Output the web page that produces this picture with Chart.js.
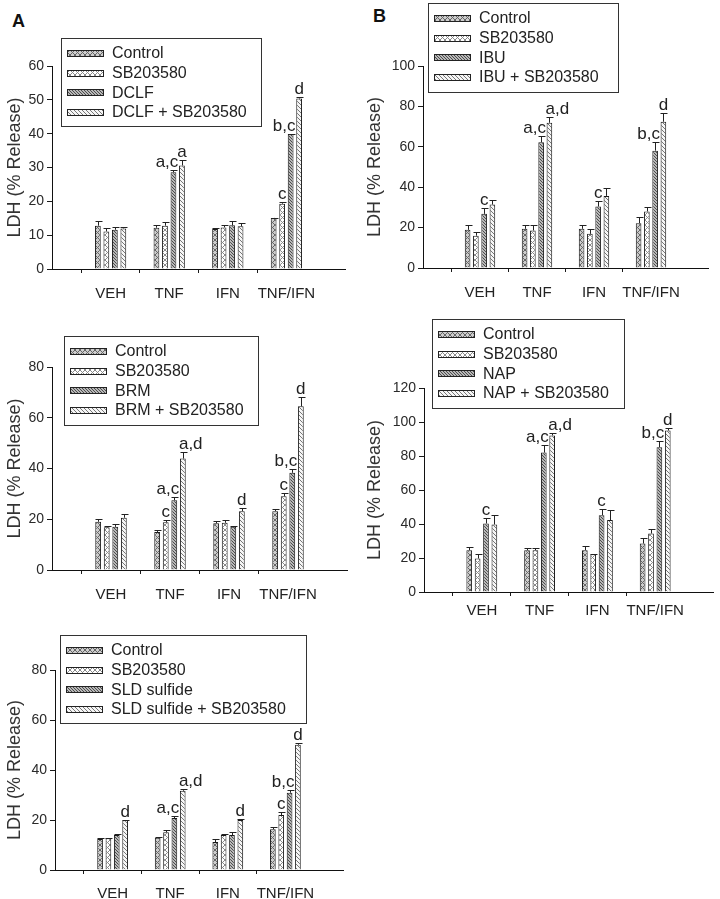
<!DOCTYPE html>
<html>
<head>
<meta charset="utf-8">
<script src="https://cdn.jsdelivr.net/npm/chart.js@4.4.1/dist/chart.umd.min.js"></script>
<style>
  html, body { margin: 0; padding: 0; background: #fff; }
  #page { position: relative; width: 720px; height: 899px; overflow: hidden; font-family: "Liberation Sans", Arial, sans-serif; }
  #page canvas { position: absolute; }
  .letter { position: absolute; font-weight: bold; font-size: 18px; color: #111; }
</style>
</head>
<body>
<div id="page">
  <div class="letter" style="left:12px;top:11px;">A</div>
  <div class="letter" style="left:373px;top:6px;">B</div>
  <canvas id="c-dclf"></canvas>
  <canvas id="c-ibu"></canvas>
  <canvas id="c-brm"></canvas>
  <canvas id="c-nap"></canvas>
  <canvas id="c-sld"></canvas>
</div>
<script>
/* ---- data ---- */
const CATEGORIES = ['VEH', 'TNF', 'IFN', 'TNF/IFN'];
const Y_TITLE = 'LDH (% Release)';

// DCLF panel
const DCLF_SERIES = ['Control', 'SB203580', 'DCLF', 'DCLF + SB203580'];
const DCLF_MEANS = [[12.8, 12.2, 11.8, 15.1], [11.1, 12.8, 12.3, 19.3], [11.6, 28.6, 12.9, 39.9], [12.0, 30.6, 12.6, 50.4]];
const DCLF_ERRS  = [[1.3, 0.7, 0.2, 0.1], [1.0, 1.0, 0.7, 0.6], [0.8, 0.6, 1.2, 0.1], [0.5, 1.6, 1.0, 0.4]];
const DCLF_MARKS = [['', '', '', ''], ['', '', '', 'c'], ['', 'a,c', '', 'b,c'], ['', 'a', '', 'd']];
const DCLF_TICKS = { max: 60, step: 10 };

// IBU panel
const IBU_SERIES = ['Control', 'SB203580', 'IBU', 'IBU + SB203580'];
const IBU_MEANS = [[18.9, 19.4, 19.4, 22.2], [16.0, 18.6, 16.9, 28.0], [26.8, 62.2, 30.4, 58.1], [31.4, 71.9, 35.7, 72.4]];
const IBU_ERRS  = [[2.3, 2.1, 2.1, 3.0], [1.8, 2.6, 2.5, 2.4], [2.8, 2.9, 3.0, 4.4], [2.5, 2.8, 3.8, 4.1]];
const IBU_MARKS = [['', '', '', ''], ['', '', '', ''], ['c', 'a,c', 'c', 'b,c'], ['', 'a,d', '', 'd']];
const IBU_TICKS = { max: 100, step: 20 };

// BRM panel
const BRM_SERIES = ['Control', 'SB203580', 'BRM', 'BRM + SB203580'];
const BRM_MEANS = [[19.0, 15.0, 18.4, 23.2], [16.8, 18.8, 18.6, 29.1], [17.0, 27.5, 17.0, 38.3], [20.6, 43.9, 23.2, 64.5]];
const BRM_ERRS  = [[1.2, 0.7, 0.9, 0.8], [0.5, 0.9, 1.1, 1.3], [1.0, 1.2, 0.2, 1.7], [1.3, 2.7, 1.1, 3.7]];
const BRM_MARKS = [['', '', '', ''], ['', 'c', '', 'c'], ['', 'a,c', '', 'b,c'], ['', 'a,d', 'd', 'd']];
const BRM_TICKS = { max: 80, step: 20 };

// NAP panel
const NAP_SERIES = ['Control', 'SB203580', 'NAP', 'NAP + SB203580'];
const NAP_MEANS = [[24.6, 24.6, 24.6, 28.5], [19.7, 24.6, 22.2, 34.4], [40.3, 82.0, 45.2, 85.2], [39.7, 92.1, 42.3, 95.0]];
const NAP_ERRS  = [[2.0, 1.0, 2.4, 3.0], [2.9, 1.0, 0.4, 2.6], [3.4, 4.4, 3.4, 3.9], [5.5, 1.7, 5.9, 1.4]];
const NAP_MARKS = [['', '', '', ''], ['', '', '', ''], ['c', 'a,c', 'c', 'b,c'], ['', 'a,d', '', 'd']];
const NAP_TICKS = { max: 120, step: 20 };

// SLD sulfide panel
const SLD_SERIES = ['Control', 'SB203580', 'SLD sulfide', 'SLD sulfide + SB203580'];
const SLD_MEANS = [[12.4, 12.9, 11.2, 16.3], [12.7, 15.1, 14.0, 22.0], [14.0, 20.8, 14.0, 30.9], [19.9, 31.7, 20.0, 50.1]];
const SLD_ERRS  = [[0.3, 0.3, 1.1, 0.8], [0.3, 0.9, 0.3, 1.1], [0.3, 0.8, 1.1, 1.1], [0.3, 0.9, 0.4, 0.8]];
const SLD_MARKS = [['', '', '', ''], ['', '', '', 'c'], ['', 'a,c', '', 'b,c'], ['d', 'a,d', 'd', 'd']];
const SLD_TICKS = { max: 80, step: 20 };

/* ---- hatch fills ---- */
function hatch(bg, fg, step, cross) {
  const c = document.createElement('canvas');
  c.width = step; c.height = step;
  const g = c.getContext('2d');
  g.fillStyle = bg;
  g.fillRect(0, 0, step, step);
  g.strokeStyle = fg;
  g.lineWidth = 1;
  g.beginPath();
  g.moveTo(-1, -1); g.lineTo(step + 1, step + 1);
  g.moveTo(-1, step - 1); g.lineTo(1, step + 1);
  g.moveTo(step - 1, -1); g.lineTo(step + 1, 1);
  if (cross) {
    g.moveTo(-1, step + 1); g.lineTo(step + 1, -1);
    g.moveTo(-1, 1); g.lineTo(1, -1);
    g.moveTo(step - 1, step + 1); g.lineTo(step + 1, step - 1);
  }
  g.stroke();
  return g.createPattern(c, 'repeat');
}

const FILLS = [
  hatch('#cdcdcd', '#666666', 5, true),
  hatch('#ffffff', '#8a8a8a', 5, true),
  hatch('#b8b8b8', '#4c4c4c', 3, false),
  hatch('#f6f6f6', '#777777', 4, false)
];

/* ---- plugins ---- */
const barExtras = {
  id: 'barExtras',
  afterDatasetsDraw(chart) {
    const { ctx } = chart;
    const y = chart.scales.y;
    ctx.save();
    ctx.strokeStyle = '#222';
    ctx.lineWidth = 1;
    ctx.fillStyle = '#222';
    ctx.font = '17px "Liberation Sans", Arial, sans-serif';
    chart.data.datasets.forEach((ds, i) => {
      const meta = chart.getDatasetMeta(i);
      meta.data.forEach((bar, j) => {
        const v = ds.data[j];
        if (v == null) return;
        const e = ds.errs[j] || 0;
        const top = y.getPixelForValue(v + e);
        const x = Math.round(bar.x) + 0.5;
        if (e > 0) {
          ctx.beginPath();
          ctx.moveTo(x, bar.y);
          ctx.lineTo(x, Math.round(top) + 0.5);
          ctx.moveTo(x - 3, Math.round(top) + 0.5);
          ctx.lineTo(x + 4, Math.round(top) + 0.5);
          ctx.stroke();
        }
        const m = ds.marks[j];
        if (m) {
          let tx = bar.x;
          ctx.textAlign = 'center';
          if (m.length > 1 && i === 2) { ctx.textAlign = 'right'; tx = bar.x + bar.width / 2 + 2; }
          if (m.length > 1 && i === 3) { ctx.textAlign = 'left'; tx = bar.x - bar.width / 2 - 1; }
          ctx.textBaseline = 'alphabetic';
          ctx.fillText(m, tx, Math.min(top, bar.y) - 3);
        }
      });
    });
    ctx.restore();
  }
};

const boxLegend = {
  id: 'boxLegend',
  afterDraw(chart, args, opts) {
    const { ctx } = chart;
    const b = opts.box;
    ctx.save();
    ctx.fillStyle = '#fff';
    ctx.fillRect(b.x, b.y, b.w, b.h);
    ctx.strokeStyle = '#333';
    ctx.lineWidth = 1;
    ctx.strokeRect(b.x + 0.5, b.y + 0.5, b.w, b.h);
    ctx.font = '16px "Liberation Sans", Arial, sans-serif';
    ctx.textBaseline = 'middle';
    ctx.textAlign = 'left';
    chart.data.datasets.forEach((ds, i) => {
      const cy = b.y + 15 + i * 19.6;
      ctx.fillStyle = FILLS[i];
      ctx.fillRect(b.x + 6, Math.round(cy) - 3, 36, 6);
      ctx.strokeStyle = '#222';
      ctx.strokeRect(b.x + 6.5, Math.round(cy) - 2.5, 36, 6);
      ctx.fillStyle = '#222';
      ctx.fillText(ds.label, b.x + 51, cy + 1);
    });
    ctx.restore();
  }
};

/* ---- one panel ---- */
function renderPanel(id, pos, series, means, errs, marks, ticks) {
  const cv = document.getElementById(id);
  cv.width = pos.w; cv.height = pos.h;
  cv.style.left = pos.left + 'px';
  cv.style.top = pos.top + 'px';
  cv.style.width = pos.w + 'px';
  cv.style.height = pos.h + 'px';

  const labels = [''].concat(CATEGORIES, ['']);
  const datasets = series.map((name, i) => ({
    label: name,
    data: [null].concat(means[i], [null]),
    errs: [0].concat(errs[i], [0]),
    marks: [''].concat(marks[i], ['']),
    backgroundColor: FILLS[i],
    borderColor: '#1a1a1a',
    borderWidth: 1,
    borderSkipped: 'bottom',
    categoryPercentage: 0.58,
    barPercentage: 0.68
  }));

  const tickFont = { family: '"Liberation Sans", Arial, sans-serif', size: 14 };

  new Chart(cv, {
    type: 'bar',
    data: { labels, datasets },
    plugins: [barExtras, boxLegend],
    options: {
      responsive: false,
      animation: false,
      devicePixelRatio: 1,
      layout: { padding: { top: pos.padTop, right: pos.padRight, left: 0, bottom: 0 } },
      plugins: {
        legend: { display: false },
        tooltip: { enabled: false },
        boxLegend: { box: pos.legend }
      },
      scales: {
        x: {
          offset: false,
          grid: {
            drawOnChartArea: false,
            tickLength: 4,
            tickColor: ctx => (ctx.tick && ctx.tick.label === '' ? 'rgba(0,0,0,0)' : '#1a1a1a')
          },
          border: { color: '#111', width: 1 },
          ticks: { font: { family: tickFont.family, size: 15 }, color: '#222', padding: pos.lp, autoSkip: false, maxRotation: 0 },
          afterFit: s => { s.height = pos.xh; }
        },
        y: {
          min: 0,
          max: ticks.max,
          grid: { drawOnChartArea: false, tickLength: 5, tickColor: '#1a1a1a' },
          border: { color: '#111', width: 1 },
          ticks: { stepSize: ticks.step, font: tickFont, color: '#2a2a2a', padding: 3 },
          title: { display: true, text: Y_TITLE, font: { family: tickFont.family, size: 18 }, color: '#333' },
          afterFit: s => { s.width = pos.yw; }
        }
      }
    }
  });
}

/* ---- layout of the five panels (page pixels) ---- */
const LAYOUT = {
  dclf: { left: 0,   top: 0,   w: 360, h: 306, yw: 52, padTop: 66, padRight: 15, xh: 37, lp: 12, legend: { x: 61, y: 38, w: 200, h: 88 } },
  ibu:  { left: 360, top: 0,   w: 360, h: 306, yw: 63, padTop: 66, padRight: 8,  xh: 38, lp: 12, legend: { x: 68, y: 3, w: 190, h: 89 } },
  brm:  { left: 0,   top: 300, w: 360, h: 311, yw: 52, padTop: 67, padRight: 13, xh: 41, lp: 12, legend: { x: 64, y: 36, w: 194, h: 89 } },
  nap:  { left: 360, top: 300, w: 360, h: 320, yw: 64, padTop: 88, padRight: 7,  xh: 28, lp: 6,  legend: { x: 72, y: 19, w: 192, h: 89 } },
  sld:  { left: 0,   top: 620, w: 360, h: 285, yw: 55, padTop: 50, padRight: 17, xh: 35, lp: 11, legend: { x: 60, y: 15, w: 246, h: 88 } }
};

renderPanel('c-dclf', LAYOUT.dclf, DCLF_SERIES, DCLF_MEANS, DCLF_ERRS, DCLF_MARKS, DCLF_TICKS);
renderPanel('c-ibu',  LAYOUT.ibu,  IBU_SERIES,  IBU_MEANS,  IBU_ERRS,  IBU_MARKS,  IBU_TICKS);
renderPanel('c-brm',  LAYOUT.brm,  BRM_SERIES,  BRM_MEANS,  BRM_ERRS,  BRM_MARKS,  BRM_TICKS);
renderPanel('c-nap',  LAYOUT.nap,  NAP_SERIES,  NAP_MEANS,  NAP_ERRS,  NAP_MARKS,  NAP_TICKS);
renderPanel('c-sld',  LAYOUT.sld,  SLD_SERIES,  SLD_MEANS,  SLD_ERRS,  SLD_MARKS,  SLD_TICKS);
</script>
</body>
</html>
